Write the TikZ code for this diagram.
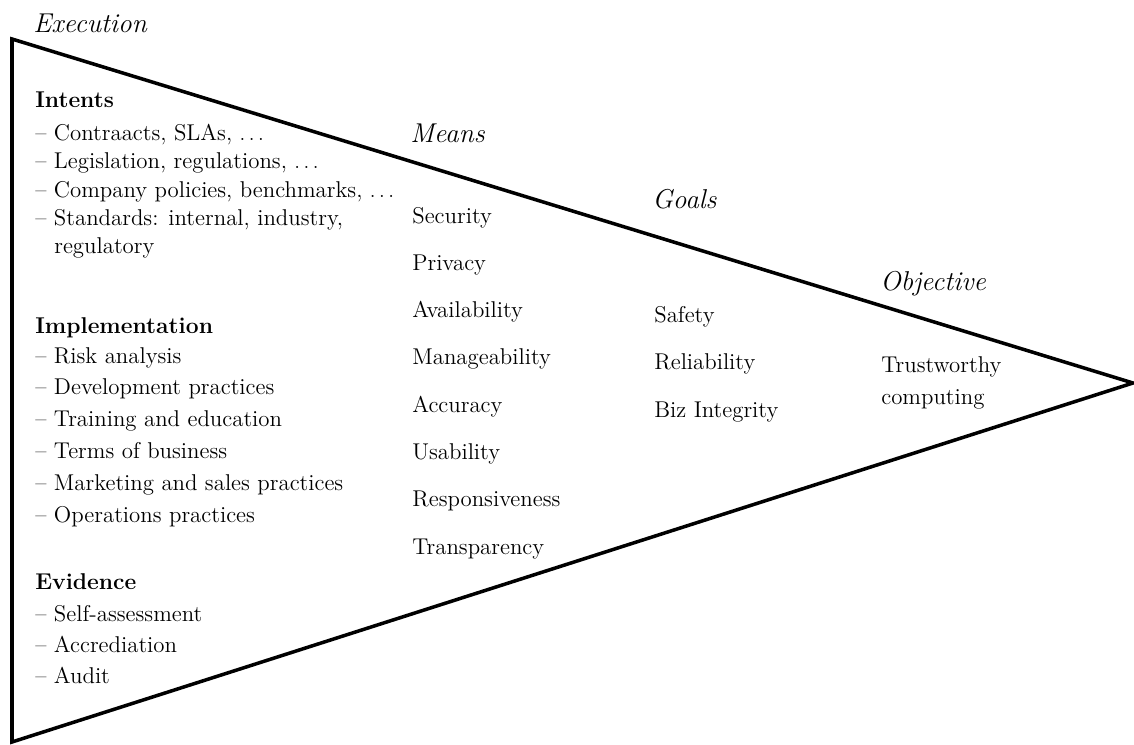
\documentclass[tikz,border=0pt]{standalone}
\usepackage{tikz}

\begin{document}
\begin{tikzpicture}[
    stage/.style={anchor=base west, inner sep=0pt, font=\fontsize{15.5}{18}\selectfont\itshape},
    group/.style={anchor=base west, inner sep=0pt, font=\fontsize{13}{15}\selectfont\bfseries},
    entry/.style={anchor=base west, inner sep=0pt, font=\fontsize{13}{15}\selectfont}]

    \useasboundingbox (0,0) rectangle (22.68,14.88);

    % Wedge
    \coordinate (topleft) at (0.24,14.1);
    \coordinate (botleft) at (0.24,0.04);
    \coordinate (tip) at (22.66,7.22);
    \draw[line width=2pt] (topleft) -- (tip) -- (botleft) -- cycle;

    % stage labels
    \node[stage] (execution) at (0.66,14.22) {Execution};
    \node[stage] (means) at (8.2,12.04) {Means};
    \node[stage] (goals) at (13.04,10.72) {Goals};
    \node[stage] (objective) at (17.6,9.08) {Objective};

    % Intents
    \node[group] (intents) at (0.7,12.74) {Intents};
    \foreach \txt [count=\i] in {{Contraacts, SLAs, $\ldots$}, {Legislation, regulations, $\ldots$},
        {Company policies, benchmarks, $\ldots$}, {Standards: internal, industry,}}
        \node[entry] (intents-\i) at (0.7,{12.08-0.57*(\i-1)}) {-- \txt};
    \node[entry] (intents-5) at (1.08,9.82) {regulatory};

    % Implementation
    \node[group] (impl) at (0.7,8.22) {Implementation};
    \foreach \txt [count=\i] in {Risk analysis, Development practices, Training and education,
        Terms of business, Marketing and sales practices, Operations practices}
        \node[entry] (impl-\i) at (0.7,{7.62-0.636*(\i-1)}) {-- \txt};

    % Evidence
    \node[group] (evidence) at (0.7,3.10) {Evidence};
    \foreach \txt [count=\i] in {Self-assessment, Accrediation, Audit}
        \node[entry] (evidence-\i) at (0.7,{2.46-0.62*(\i-1)}) {-- \txt};

    % Means column
    \foreach \txt [count=\i] in {Security, Privacy, Availability, Manageability,
        Accuracy, Usability, Responsiveness, Transparency}
        \node[entry] (mean-\i) at (8.24,{10.42-0.946*(\i-1)}) {\txt};

    % Goals column
    \foreach \txt [count=\i] in {Safety, Reliability, Biz Integrity}
        \node[entry] (goal-\i) at (13.08,{8.44-0.95*(\i-1)}) {\txt};

    % Objective
    \node[entry] (trust) at (17.62,7.44) {Trustworthy};
    \node[entry] (computing) at (17.62,6.8) {computing};

\end{tikzpicture}
\end{document}
